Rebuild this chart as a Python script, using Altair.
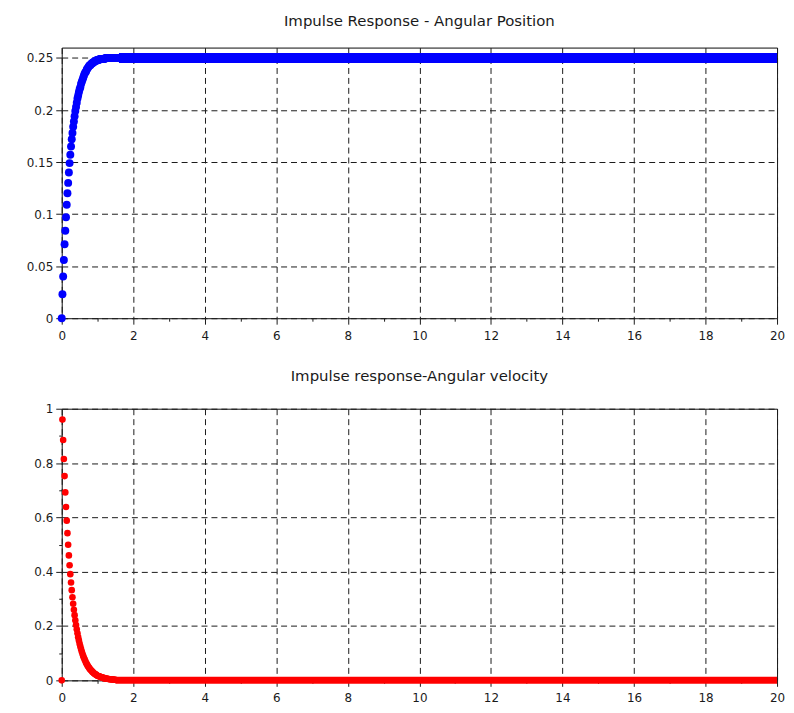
import altair as alt
import pandas as pd

# ---------------- data ----------------
step = 0.02  # sampling step of the simulated response (s)

# Angular position, transient part (one value per sample, t = 0, 0.02, ...)
pos_values = [
    0.000, 0.023, 0.040, 0.056, 0.071, 0.084, 0.097, 0.109, 0.120, 0.130,
    0.140, 0.149, 0.157, 0.165, 0.172, 0.178, 0.184, 0.189, 0.194, 0.199,
    0.203, 0.207, 0.211, 0.214, 0.217, 0.220, 0.222, 0.225, 0.227, 0.229,
    0.231, 0.233, 0.235, 0.236, 0.237, 0.239, 0.240, 0.241, 0.242, 0.243,
    0.243, 0.244, 0.245, 0.245, 0.246, 0.246, 0.247, 0.247, 0.247, 0.248,
    0.248, 0.248, 0.248, 0.249, 0.249, 0.249, 0.249, 0.249, 0.249, 0.249,
    0.249, 0.250, 0.250, 0.250, 0.250, 0.250, 0.250, 0.250, 0.250, 0.250,
    0.250, 0.250, 0.250, 0.250, 0.250, 0.250, 0.250, 0.250, 0.250, 0.250, 0.250,
]
# Angular velocity, transient part
vel_values = [
    0.000, 0.960, 0.885, 0.815, 0.752, 0.692, 0.638, 0.588, 0.542, 0.499,
    0.460, 0.424, 0.391, 0.360, 0.332, 0.306, 0.282, 0.260, 0.240, 0.221,
    0.204, 0.188, 0.173, 0.159, 0.147, 0.135, 0.125, 0.115, 0.106, 0.098,
    0.090, 0.083, 0.077, 0.071, 0.065, 0.060, 0.055, 0.051, 0.047, 0.043,
    0.040, 0.037, 0.034, 0.031, 0.029, 0.026, 0.024, 0.022, 0.021, 0.019,
    0.017, 0.016, 0.015, 0.014, 0.013, 0.012, 0.011, 0.010, 0.009, 0.008,
    0.008, 0.007, 0.007, 0.006, 0.006, 0.005, 0.005, 0.004, 0.004, 0.004,
    0.003, 0.003, 0.003, 0.002, 0.002, 0.002,
]
# Steady-state plateau drawn as a dense band: [t_start, t_end, level]
pos_tail = [1.60, 20.0, 0.25]
vel_tail = [1.50, 20.0, 0.0]

x_ticks = list(range(0, 21))
top_y_ticks = [0, 0.05, 0.1, 0.15, 0.2, 0.25]
bot_y_ticks = [0, 0.1, 0.2, 0.3, 0.4, 0.5, 0.6, 0.7, 0.8, 0.9, 1.0]

titles = ["Impulse Response - Angular Position", "Impulse response-Angular velocity"]

# ---------------- tables ----------------
pos_df = pd.DataFrame({"t": [round(i * step, 2) for i in range(len(pos_values))], "v": pos_values})
vel_df = pd.DataFrame({"t": [round(i * step, 2) for i in range(len(vel_values))], "v": vel_values})
pos_tail_df = pd.DataFrame({"t": [pos_tail[0]], "t2": [pos_tail[1]], "v": [pos_tail[2]]})
vel_tail_df = pd.DataFrame({"t": [vel_tail[0]], "t2": [vel_tail[1]], "v": [vel_tail[2]]})

FONT = "DejaVu Sans"
W = 719
INK = "#1a1a1a"


def x_axis():
    return alt.Axis(
        values=x_ticks, orient="bottom",
        labelExpr="datum.value % 2 === 0 ? datum.label : ''",
        tickSize={"condition": {"test": "datum.value % 2 === 0", "value": 6}, "value": 3},
        gridOpacity={"condition": {"test": "datum.value % 2 === 0", "value": 1}, "value": 0},
        grid=True, gridDash=[6, 4], gridColor=INK, gridWidth=1,
        domain=True, domainColor=INK, tickColor=INK, labelColor=INK, labelFont=FONT,
        labelFontSize=12, labelPadding=6, labelFlush=False, labelOverlap=False,
        title=None,
    )


def y_axis(values, minor):
    if minor:
        test = "round(datum.value * 10) % 2 === 0"
        extra = dict(
            labelExpr=f"{test} ? datum.label : ''",
            tickSize={"condition": {"test": test, "value": 6}, "value": 3},
            gridOpacity={"condition": {"test": test, "value": 1}, "value": 0},
        )
    else:
        extra = dict(tickSize=6)
    return alt.Axis(
        values=values, orient="left", format="~g", grid=True, gridDash=[6, 4], gridColor=INK,
        gridWidth=1, domain=True, domainColor=INK, tickColor=INK, labelColor=INK,
        labelFont=FONT, labelFontSize=12, labelPadding=3, labelFlush=False,
        labelOverlap=False, minExtent=48, maxExtent=48, title=None, **extra,
    )


def frame_axis(orient):
    # plain closing line of the box (top / right side)
    return alt.Axis(orient=orient, domain=True, domainColor=INK, ticks=False,
                    labels=False, grid=False, title=None, minExtent=0, maxExtent=0)


def panel(df, tail_df, color, size, band, ydom, yvals, minor, title, height, tsize):
    xs = alt.Scale(domain=[0, 20], nice=False, zero=False)
    ys = alt.Scale(domain=ydom, nice=False, zero=False)
    tail = alt.Chart(tail_df).mark_rule(color=color, strokeWidth=band, strokeCap="butt").encode(
        x=alt.X("t:Q", scale=xs, axis=x_axis()), x2="t2:Q",
        y=alt.Y("v:Q", scale=ys, axis=y_axis(yvals, minor)),
    )
    pts = alt.Chart(df).mark_circle(color=color, size=size, opacity=1).encode(
        x=alt.X("t:Q", scale=xs, axis=frame_axis("top")),
        y=alt.Y("v:Q", scale=ys, axis=frame_axis("right")),
    )
    return alt.layer(tail, pts).resolve_axis(x="independent", y="independent").properties(
        width=W, height=height,
        title=alt.TitleParams(title, font=FONT, fontSize=tsize, fontWeight="normal",
                              color=INK, anchor="middle", offset=19),
    )


top = panel(pos_df, pos_tail_df, "#0000ff", 64, 10, [0, 0.26], top_y_ticks, False, titles[0], 272, 15)
bot = panel(vel_df, vel_tail_df, "#ff0000", 44, 7, [0, 1], bot_y_ticks, True, titles[1], 273, 15)

chart = alt.vconcat(top, bot, spacing=26).properties(
    padding={"left": 5, "top": 3, "right": 0, "bottom": 0},
).configure_view(stroke="black", strokeWidth=1, strokeOpacity=1).configure(background="white")

chart.save("out.html", embed_options={"renderer": "svg", "actions": False})
